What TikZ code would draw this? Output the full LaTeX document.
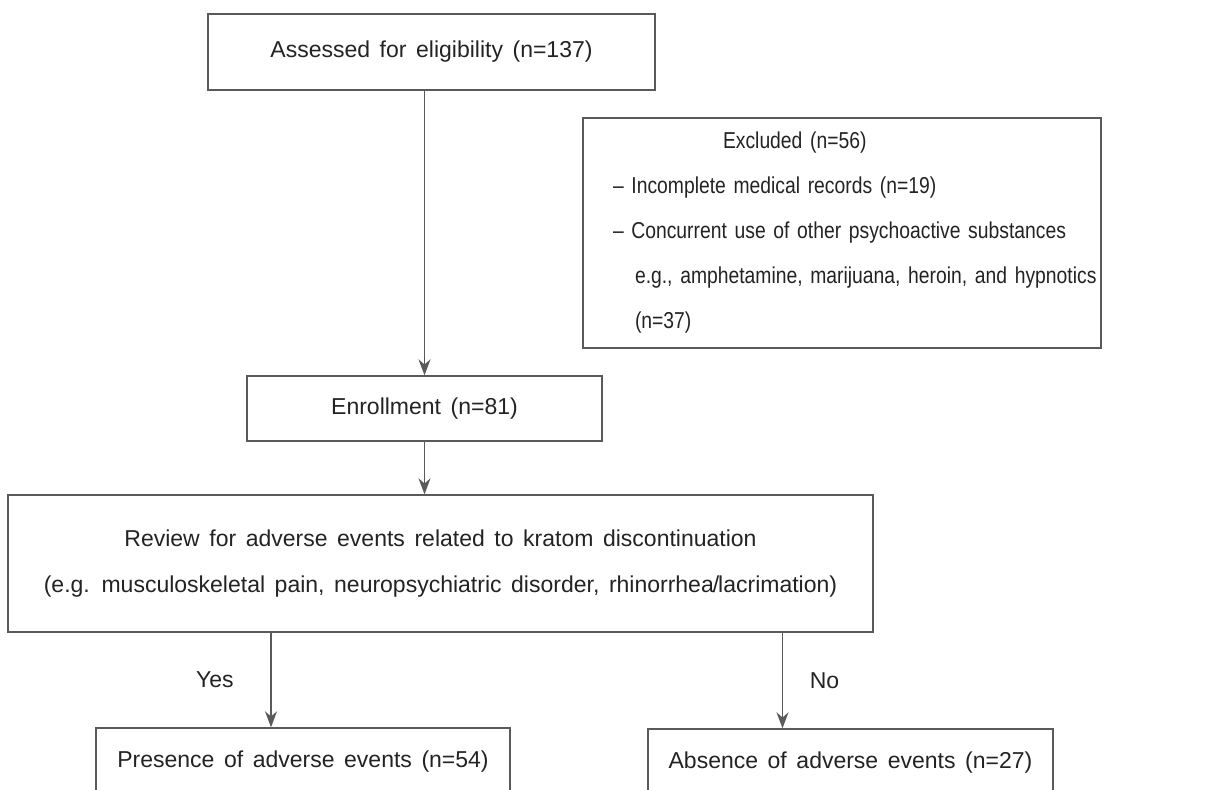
\documentclass[tikz,border=0pt]{standalone}
\usepackage{fontspec}
\setmainfont{Liberation Sans}[WordSpace=1.5]
\newfontfamily\narrowsans{Liberation Sans}[FakeStretch=0.84,WordSpace=1.2]
\usetikzlibrary{arrows.meta}
\definecolor{linegray}{RGB}{90,90,90}
\definecolor{textgray}{RGB}{35,35,35}
\begin{document}
\begin{tikzpicture}[x=0.5pt,y=-0.5pt,
  box/.style={draw=linegray,line width=0.7pt,inner sep=0pt,text=textgray,
    font=\fontsize{11.5}{14}\selectfont},
  arr/.style={draw=linegray,line width=0.7pt,-{Stealth[length=8pt,width=6pt]}},
  lbl/.style={text=textgray,font=\fontsize{11.5}{14}\selectfont}]

% Page area
\useasboundingbox (0,0) rectangle (1219,789);
\clip (0,0) rectangle (1219,789);

% Top box
\node[box,minimum width=223.5pt,minimum height=38pt] (assess) at (431.5,52)
  {Assessed for eligibility (n=137)};

% Exclusion box on the right
\node[box,font=\narrowsans\fontsize{11.5}{14}\selectfont,minimum width=259pt,minimum height=115pt,
  text width=259pt,align=left] (excl) at (842,233)
  {\mbox{\hspace*{70pt}Excluded (n=56)}\\[8.5pt]
   \mbox{\hspace*{15pt}– Incomplete medical records (n=19)}\\[8.5pt]
   \mbox{\hspace*{15pt}– Concurrent use of other psychoactive substances}\\[8.5pt]
   \mbox{\hspace*{26pt}e.g., amphetamine, marijuana, heroin, and hypnotics}\\[8.5pt]
   \mbox{\hspace*{26pt}(n=37)}};

% Enrollment
\node[box,minimum width=177.5pt,minimum height=32.5pt] (enrol) at (424.5,408.5)
  {Enrollment (n=81)};

% Review box (two lines)
\node[box,minimum width=432.5pt,minimum height=68.5pt,align=center] (review) at (440.5,563.5)
  {Review for adverse events related to kratom discontinuation\\[9pt]
   (e.g. musculoskeletal pain, neuropsychiatric disorder, rhinorrhea\kern-0.5pt/\kern-0.5pt lacrimation)};

% Outcome boxes (cut off at the bottom)
\node[box,minimum width=207pt,minimum height=34pt] (yesbox) at (303,762)
  {Presence of adverse events (n=54)};
\node[box,minimum width=202.5pt,minimum height=33.5pt] (nobox) at (850.5,762.5)
  {Absence of adverse events (n=27)};

% Arrows
\draw[arr] (assess.south -| enrol.north) -- (enrol.north);
\draw[arr] (enrol.south) -- (enrol.south |- review.north);
\draw[arr] ([xshift=-16pt]yesbox.north |- review.south) -- ([xshift=-16pt]yesbox.north)
  node[lbl,midway,left=15pt] {Yes};
\draw[arr] ([xshift=-34pt]nobox.north |- review.south) -- ([xshift=-34pt]nobox.north)
  node[lbl,midway,right=10pt] {No};

\end{tikzpicture}
\end{document}
